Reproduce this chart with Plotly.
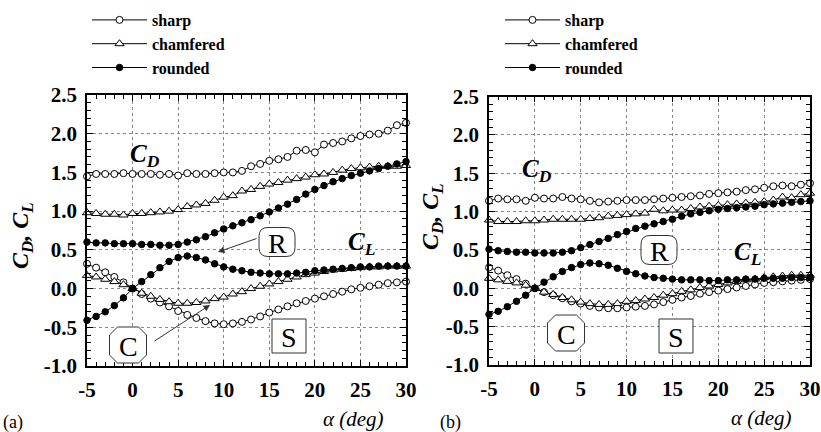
import plotly.graph_objects as go

W, H = 821, 432
FONT = "Liberation Serif"

# ---------------- data ----------------
alpha = [-5, -4, -3, -2, -1, 0, 1, 2, 3, 4, 5, 6, 7, 8, 9, 10, 11, 12, 13, 14, 15,
         16, 17, 18, 19, 20, 21, 22, 23, 24, 25, 26, 27, 28, 29, 30]

# panel (a)
a_sharp_cd = [1.45, 1.48, 1.48, 1.48, 1.49, 1.48, 1.48, 1.48, 1.47, 1.48, 1.46, 1.49, 1.48, 1.48,
              1.49, 1.50, 1.50, 1.52, 1.58, 1.61, 1.65, 1.67, 1.70, 1.78, 1.79, 1.76, 1.86, 1.88,
              1.90, 1.94, 1.97, 1.99, 2.00, 2.04, 2.11, 2.14]
a_cham_cd = [0.98, 0.97, 0.96, 0.96, 0.95, 0.97, 0.97, 0.98, 0.99, 1.00, 1.02, 1.06, 1.08, 1.10,
             1.14, 1.18, 1.20, 1.26, 1.28, 1.32, 1.35, 1.37, 1.40, 1.42, 1.44, 1.47, 1.48, 1.50,
             1.53, 1.55, 1.56, 1.57, 1.58, 1.58, 1.58, 1.59]
a_round_cd = [0.60, 0.59, 0.59, 0.58, 0.58, 0.58, 0.57, 0.57, 0.56, 0.56, 0.57, 0.60, 0.63, 0.67,
              0.72, 0.77, 0.81, 0.85, 0.89, 0.94, 0.99, 1.04, 1.09, 1.15, 1.22, 1.28, 1.33, 1.38,
              1.42, 1.46, 1.49, 1.52, 1.55, 1.58, 1.61, 1.64]
a_sharp_cl = [0.32, 0.27, 0.21, 0.15, 0.08, 0.00, -0.07, -0.13, -0.18, -0.23, -0.29, -0.34, -0.38,
              -0.42, -0.45, -0.46, -0.45, -0.43, -0.40, -0.36, -0.31, -0.27, -0.23, -0.19, -0.16,
              -0.13, -0.10, -0.07, -0.04, -0.01, 0.01, 0.03, 0.05, 0.07, 0.08, 0.09]
a_cham_cl = [0.17, 0.15, 0.12, 0.09, 0.05, 0.00, -0.06, -0.10, -0.14, -0.17, -0.19, -0.19, -0.18,
             -0.16, -0.13, -0.11, -0.07, -0.04, 0.00, 0.03, 0.06, 0.09, 0.12, 0.15, 0.18, 0.20,
             0.22, 0.24, 0.25, 0.26, 0.27, 0.28, 0.28, 0.29, 0.29, 0.29]
a_round_cl = [-0.41, -0.36, -0.30, -0.22, -0.12, 0.00, 0.09, 0.18, 0.27, 0.35, 0.40, 0.42, 0.40,
              0.37, 0.32, 0.28, 0.25, 0.23, 0.21, 0.20, 0.19, 0.19, 0.19, 0.20, 0.21, 0.23, 0.24,
              0.25, 0.26, 0.27, 0.28, 0.28, 0.29, 0.29, 0.29, 0.29]

# panel (b)
b_sharp_cd = [1.14, 1.17, 1.16, 1.16, 1.14, 1.18, 1.17, 1.17, 1.19, 1.17, 1.16, 1.14, 1.12, 1.13,
              1.14, 1.15, 1.15, 1.15, 1.16, 1.17, 1.18, 1.19, 1.20, 1.21, 1.23, 1.24, 1.25, 1.26,
              1.28, 1.29, 1.31, 1.33, 1.34, 1.33, 1.35, 1.37]
b_cham_cd = [0.89, 0.87, 0.87, 0.87, 0.88, 0.88, 0.89, 0.90, 0.90, 0.90, 0.90, 0.91, 0.92, 0.94,
             0.95, 0.96, 0.97, 0.98, 1.03, 1.01, 1.02, 1.02, 1.04, 1.06, 1.07, 1.08, 1.09, 1.10,
             1.11, 1.12, 1.13, 1.15, 1.19, 1.18, 1.22, 1.24]
b_round_cd = [0.51, 0.49, 0.48, 0.47, 0.47, 0.46, 0.46, 0.46, 0.47, 0.49, 0.53, 0.57, 0.61, 0.65,
              0.70, 0.74, 0.78, 0.81, 0.84, 0.87, 0.90, 0.94, 0.97, 0.99, 1.01, 1.03, 1.04, 1.05,
              1.06, 1.07, 1.09, 1.10, 1.11, 1.12, 1.13, 1.14]
b_sharp_cl = [0.27, 0.23, 0.17, 0.12, 0.06, 0.00, -0.05, -0.09, -0.13, -0.17, -0.20, -0.23, -0.25,
              -0.26, -0.26, -0.25, -0.24, -0.23, -0.21, -0.18, -0.15, -0.12, -0.10, -0.07, -0.05,
              -0.03, -0.01, 0.01, 0.03, 0.05, 0.07, 0.08, 0.09, 0.10, 0.11, 0.12]
b_cham_cl = [0.13, 0.11, 0.09, 0.07, 0.04, 0.00, -0.05, -0.08, -0.12, -0.15, -0.18, -0.20, -0.21,
             -0.21, -0.20, -0.17, -0.16, -0.14, -0.12, -0.09, -0.07, -0.04, -0.02, 0.01, 0.03,
             0.05, 0.07, 0.09, 0.11, 0.12, 0.14, 0.15, 0.16, 0.17, 0.17, 0.17]
b_round_cl = [-0.34, -0.30, -0.24, -0.17, -0.09, 0.00, 0.08, 0.15, 0.22, 0.27, 0.31, 0.33, 0.32,
              0.30, 0.26, 0.22, 0.19, 0.16, 0.14, 0.13, 0.12, 0.11, 0.11, 0.11, 0.10, 0.10, 0.11,
              0.11, 0.12, 0.12, 0.13, 0.13, 0.13, 0.14, 0.14, 0.14]

series_names = ["sharp", "chamfered", "rounded"]
x_tickvals = [-5, 0, 5, 10, 15, 20, 25, 30]
x_ticktext = ["-5", "0", "5", "10", "15", "20", "25", "30"]
y_tickvals = [-1.0, -0.5, 0.0, 0.5, 1.0, 1.5, 2.0, 2.5]
y_ticktext = ["-1.0", "-0.5", "0.0", "0.5", "1.0", "1.5", "2.0", "2.5"]


# ---------------- helpers ----------------
def fx(x):
    return x / W


def fy(y):
    return 1 - y / H


marker_styles = {
    "sharp": dict(symbol="circle", size=7, color="white", line=dict(color="black", width=1)),
    "chamfered": dict(symbol="triangle-up", size=8, color="white", line=dict(color="black", width=1)),
    "rounded": dict(symbol="circle", size=6.5, color="black", line=dict(color="black", width=1)),
}

fig = go.Figure()

panels = [
    ("x", "y", "legend", [a_sharp_cd, a_cham_cd, a_round_cd], [a_sharp_cl, a_cham_cl, a_round_cl]),
    ("x2", "y2", "legend2", [b_sharp_cd, b_cham_cd, b_round_cd], [b_sharp_cl, b_cham_cl, b_round_cl]),
]
for xa, ya, leg, cds, cls in panels:
    for name, cd in zip(series_names, cds):
        fig.add_trace(go.Scatter(x=alpha, y=cd, mode="lines+markers", name=f"<b>{name}</b>",
                                 line=dict(color="black", width=1), marker=marker_styles[name],
                                 xaxis=xa, yaxis=ya, legend=leg, showlegend=True, cliponaxis=False))
    for name, cl in zip(series_names, cls):
        fig.add_trace(go.Scatter(x=alpha, y=cl, mode="lines+markers", name=name,
                                 line=dict(color="black", width=1), marker=marker_styles[name],
                                 xaxis=xa, yaxis=ya, legend=leg, showlegend=False, cliponaxis=False))

tickfont = dict(family=FONT, size=21, color="black")
common = dict(showline=True, linecolor="black", linewidth=1.5, mirror="ticks",
              ticks="inside", ticklen=6, tickwidth=1, tickcolor="black",
              showgrid=True, gridcolor="#8a8a8a", griddash="dot", gridwidth=1,
              zeroline=False, tickfont=tickfont, tickmode="array")
xcommon = dict(common, range=[-5, 30], tickvals=x_tickvals,
               ticktext=[f"<b>{t}</b>" for t in x_ticktext],
               ticklabelstandoff=4,
               minor=dict(ticks="inside", ticklen=4, tickwidth=1, tickcolor="black", dtick=1, tick0=0,
                          showgrid=False))
ycommon = dict(common, range=[-1, 2.5], tickvals=y_tickvals,
               ticktext=[f"<b>{t}</b>" for t in y_ticktext],
               ticklabelstandoff=4,
               minor=dict(ticks="inside", ticklen=4, tickwidth=1, tickcolor="black", dtick=0.1, tick0=0,
                          showgrid=False))

legfont = dict(family=FONT, size=16, color="black")
fig.update_layout(
    width=W, height=H, margin=dict(l=0, r=0, t=0, b=0, autoexpand=False),
    paper_bgcolor="white", plot_bgcolor="white",
    xaxis=dict(xcommon, domain=[fx(87), fx(406)], anchor="y"),
    yaxis=dict(ycommon, domain=[fy(366), fy(95)], anchor="x"),
    xaxis2=dict(xcommon, domain=[fx(489), fx(810)], anchor="y2"),
    yaxis2=dict(ycommon, domain=[fy(365), fy(96.5)], anchor="x2"),
    legend=dict(x=fx(87), y=fy(3), xanchor="left", yanchor="top", bgcolor="rgba(0,0,0,0)",
                font=legfont, itemwidth=55, tracegroupgap=0),
    legend2=dict(x=fx(500), y=fy(3), xanchor="left", yanchor="top", bgcolor="rgba(0,0,0,0)",
                 font=legfont, itemwidth=55, tracegroupgap=0),
    showlegend=True,
)


def text_ann(x, y, text, size, angle=0):
    fig.add_annotation(x=fx(x), y=fy(y), xref="paper", yref="paper", text=text, showarrow=False,
                       textangle=angle, xanchor="center", yanchor="middle",
                       font=dict(family=FONT, size=size, color="black"))


# axis titles and panel labels
ytitle = "<b><i>C<sub>D</sub>, C<sub>L</sub></i></b>"
text_ann(22, 236, ytitle, 24, -90)
text_ann(432, 217, ytitle, 24, -90)
text_ann(353, 419, "<i>α (deg)</i>", 21)
text_ann(761, 418, "<i>α (deg)</i>", 21)
text_ann(13, 422, "(a)", 18)
text_ann(450, 422, "(b)", 18)

# C_D / C_L labels
text_ann(145, 155, "<b><i>C<sub>D</sub></i></b>", 25)
text_ann(537, 171, "<b><i>C<sub>D</sub></i></b>", 25)
text_ann(361, 244, "<b><i>C<sub>L</sub></i></b>", 25)
text_ann(747, 253, "<b><i>C<sub>L</sub></i></b>", 25)


def P(x, y):
    return f"{fx(x):.5f},{fy(y):.5f}"


def rounded_box(cx, cy, w, h, r):
    x0, x1, y0, y1 = cx - w / 2, cx + w / 2, cy - h / 2, cy + h / 2
    return (f"M{P(x0 + r, y0)} L{P(x1 - r, y0)} Q{P(x1, y0)} {P(x1, y0 + r)} "
            f"L{P(x1, y1 - r)} Q{P(x1, y1)} {P(x1 - r, y1)} L{P(x0 + r, y1)} "
            f"Q{P(x0, y1)} {P(x0, y1 - r)} L{P(x0, y0 + r)} Q{P(x0, y0)} {P(x0 + r, y0)} Z")


def octagon_box(cx, cy, w, h, c):
    x0, x1, y0, y1 = cx - w / 2, cx + w / 2, cy - h / 2, cy + h / 2
    return (f"M{P(x0 + c, y0)} L{P(x1 - c, y0)} L{P(x1, y0 + c)} L{P(x1, y1 - c)} "
            f"L{P(x1 - c, y1)} L{P(x0 + c, y1)} L{P(x0, y1 - c)} L{P(x0, y0 + c)} Z")


def square_box(cx, cy, w, h):
    x0, x1, y0, y1 = cx - w / 2, cx + w / 2, cy - h / 2, cy + h / 2
    return f"M{P(x0, y0)} L{P(x1, y0)} L{P(x1, y1)} L{P(x0, y1)} Z"


box_line = dict(color="#333333", width=1)
labels = [
    ("R", 277, 242, "r"), ("C", 128, 345, "c"), ("S", 289, 336, "s"),
    ("R", 659, 250, "r"), ("C", 566, 333, "c"), ("S", 676, 336, "s"),
]
for letter, cx, cy, kind in labels:
    if kind == "r":
        path = rounded_box(cx, cy, 36, 29, 9)
    elif kind == "c":
        path = octagon_box(cx, cy, 37, 36, 8)
    else:
        path = square_box(cx, cy, 34, 34)
    fig.add_shape(type="path", path=path, xref="paper", yref="paper", line=box_line,
                  fillcolor="white", layer="above")
    text_ann(cx, cy + 1, letter, 28)

# arrows in panel (a)
for (tx, ty, hx, hy) in [(258, 238, 218, 252), (153, 342, 210, 305)]:
    fig.add_annotation(x=fx(hx), y=fy(hy), xref="paper", yref="paper", text="",
                       showarrow=True, ax=tx - hx, ay=ty - hy, axref="pixel", ayref="pixel",
                       arrowhead=2, arrowsize=1.3, arrowwidth=1, arrowcolor="#333333")

fig.write_html("out.html", config={"displayModeBar": False},
               post_script="document.body.style.margin='0';document.body.style.overflow='hidden';")
